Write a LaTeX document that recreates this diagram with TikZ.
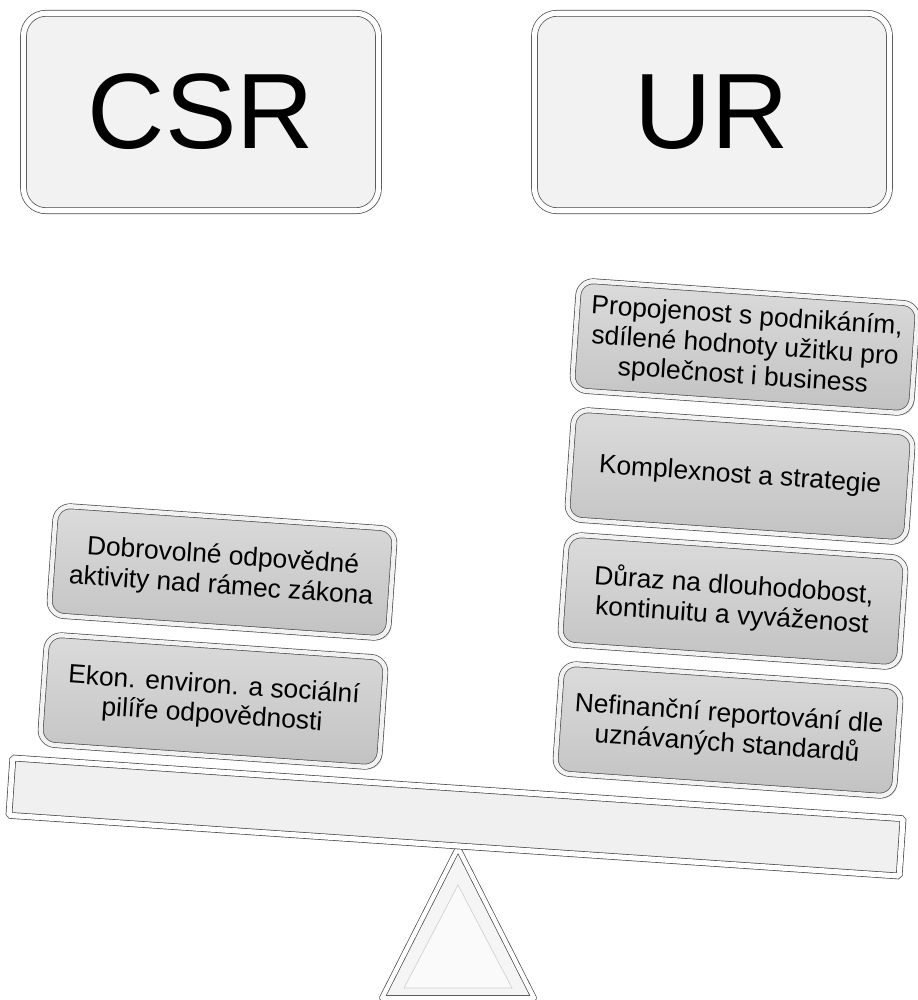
\documentclass[tikz,border=0pt]{standalone}
\usepackage{fontspec}
\setmainfont{Liberation Sans}
\usetikzlibrary{shadows}

\begin{document}
\begin{tikzpicture}[
    x=0.02cm, y=-0.02cm, % one unit = one pixel, y down
    title_box/.style = {draw=gray!55!black, fill=gray!10, double=white, double distance=3pt,
        rounded corners=0.45cm, minimum width=7.1cm, minimum height=3.95cm,
        font=\fontsize{61}{61}\selectfont, drop shadow={opacity=0.3, shadow xshift=1.5pt, shadow yshift=-1.5pt}},
    item_box/.style = {draw=gray!60!black, top color=gray!28, bottom color=gray!48,
        double=gray!10, double distance=2.5pt, rounded corners=0.3cm,
        minimum width=6.8cm, minimum height=2.2cm, rotate=-4, align=center,
        font=\fontsize{15}{17}\selectfont, drop shadow={opacity=0.35, shadow xshift=1.5pt, shadow yshift=-1.5pt}}
    ]
    \tikzstyle{beam_style} = [draw=gray!55!black, fill=gray!12, double=white, double distance=3pt,
        rounded corners=1pt, minimum width=17.85cm, minimum height=1.15cm, rotate=-3.9,
        drop shadow={opacity=0.3, shadow xshift=1.5pt, shadow yshift=-1.5pt}]
    \tikzstyle{stand_style} = [draw=gray!55!black, fill=gray!8, double=white, double distance=2.5pt,
        line join=round, drop shadow={opacity=0.25, shadow xshift=1pt, shadow yshift=-1pt}]
    \useasboundingbox (0,0) rectangle (917,1000);

    % headings
    \node[title_box] (csr) at (201,112) {CSR};
    \node[title_box] (ur) at (712,112) {UR};

    % beam and stand
    \coordinate (apex) at (458,848);
    \coordinate (baseL) at (382,998);
    \coordinate (baseR) at (534,998);
    \draw[stand_style] (apex) -- (baseR) -- (baseL) -- cycle;
    \draw[draw=gray!35, fill=gray!4] (458,885) -- (512,988) -- (404,988) -- cycle;
    \node[beam_style] (beam) at (456,817) {};

    % left pan
    \node[item_box] (ekon) at (213,701) {Ekon. environ. a sociální\\pilíře odpovědnosti};
    \node[item_box] (dobro) at (222,572) {Dobrovolné odpovědné\\aktivity nad rámec zákona};

    % right pan
    \node[item_box] (nefin) at (728,730) {Nefinanční reportování dle\\uznávaných standardů};
    \node[item_box] (duraz) at (733,601) {Důraz na dlouhodobost,\\kontinuitu a vyváženost};
    \node[item_box] (kompl) at (740,476) {Komplexnost a strategie};
    \node[item_box] (propo) at (745,347) {Propojenost s podnikáním,\\sdílené hodnoty užitku pro\\společnost i business};
\end{tikzpicture}
\end{document}
